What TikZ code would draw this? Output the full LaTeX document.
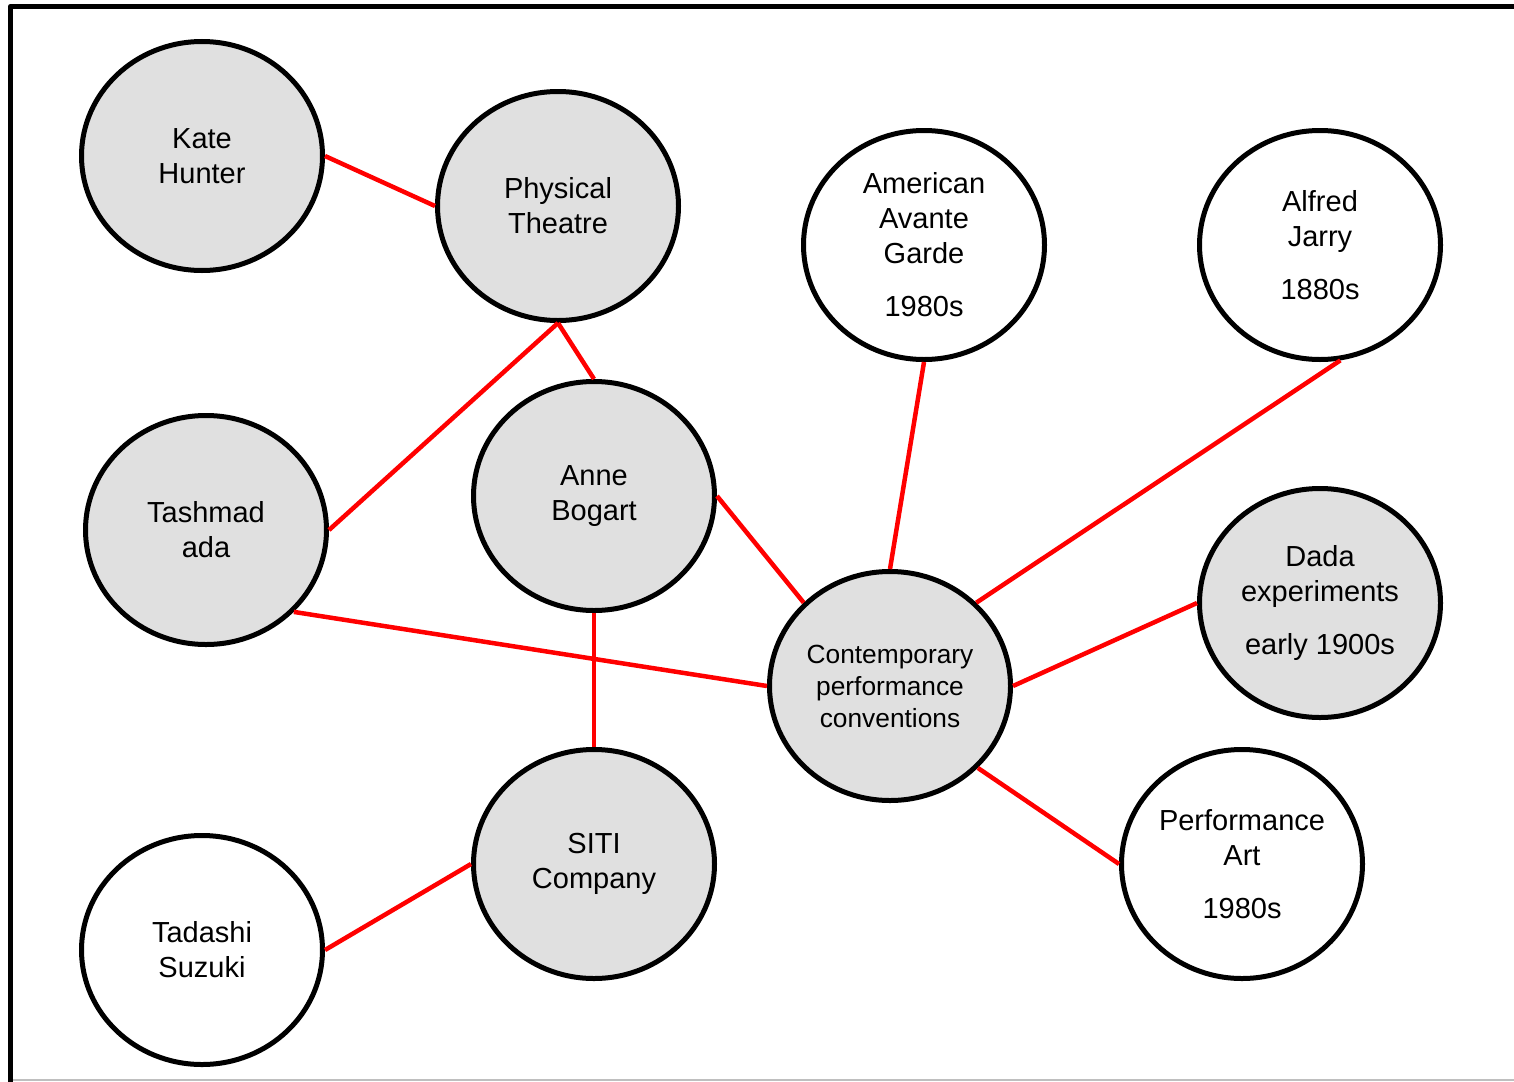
\documentclass[tikz,border=0pt]{standalone}
\usepackage{fontspec}
\setmainfont{Liberation Sans}
\usetikzlibrary{shapes.geometric}
\definecolor{bubblegray}{HTML}{E0E0E0}
\tikzset{
  bubble/.style={ellipse, draw=black, line width=5pt, minimum width=241pt, minimum height=229pt,
    inner sep=0pt, align=center, font=\fontsize{29}{35}\selectfont},
  grayb/.style={bubble, fill=bubblegray},
  whiteb/.style={bubble, fill=white},
  small/.style={font=\fontsize{26.3}{32}\selectfont},
  link/.style={draw=red, line width=4.5pt}
}
\begin{document}
\begin{tikzpicture}[x=1pt,y=-1pt]
\useasboundingbox (0,0) rectangle (1514,1081);
\fill[white] (0,0) rectangle (1514,1081);
% frame
\draw[black!25, line width=1.5pt] (10,1080) -- (1514,1080);
\draw[black, line width=5.5pt, line join=round] (1520,6.3) -- (10.7,6.3) -- (10.7,1090);

% nodes
\node[grayb]  (kate)  at (202,156) {Kate\\Hunter};
\node[grayb]  (phys)  at (558,206) {Physical\\Theatre};
\node[whiteb] (amer)  at (924,245) {American\\Avante\\Garde\\[18pt]1980s};
\node[whiteb] (jarry) at (1320,245) {Alfred\\Jarry\\[18pt]1880s};
\node[grayb]  (tash)  at (206,530) {Tashmad\\ada};
\node[grayb]  (anne)  at (594,496) {Anne\\Bogart};
\node[grayb, small] (cont) at (890,686) {Contemporary\\performance\\conventions};
\node[grayb]  (dada)  at (1320,603) {Dada\\experiments\\[18pt]early 1900s};
\node[whiteb] (perf)  at (1242,864) {Performance\\Art\\[18pt]1980s};
\node[grayb]  (siti)  at (594,864) {SITI\\Company};
\node[whiteb] (suzuki) at (202,950) {Tadashi\\Suzuki};

% connectors
\draw[link] (kate.east) -- (phys.west);
\draw[link] (phys.south) -- (tash.east);
\draw[link] (phys.south) -- (anne.north);
\draw[link] (anne.east) -- (cont.136);
\draw[link] (tash.-43) -- (cont.west);
\draw[link] (anne.south) -- (siti.north);
\draw[link] (siti.west) -- (suzuki.east);
\draw[link] (amer.south) -- (cont.north);
\draw[link] (jarry.-80) -- (cont.44);
\draw[link] (dada.west) -- (cont.east);
\draw[link] (cont.-43) -- (perf.west);
\end{tikzpicture}
\end{document}
